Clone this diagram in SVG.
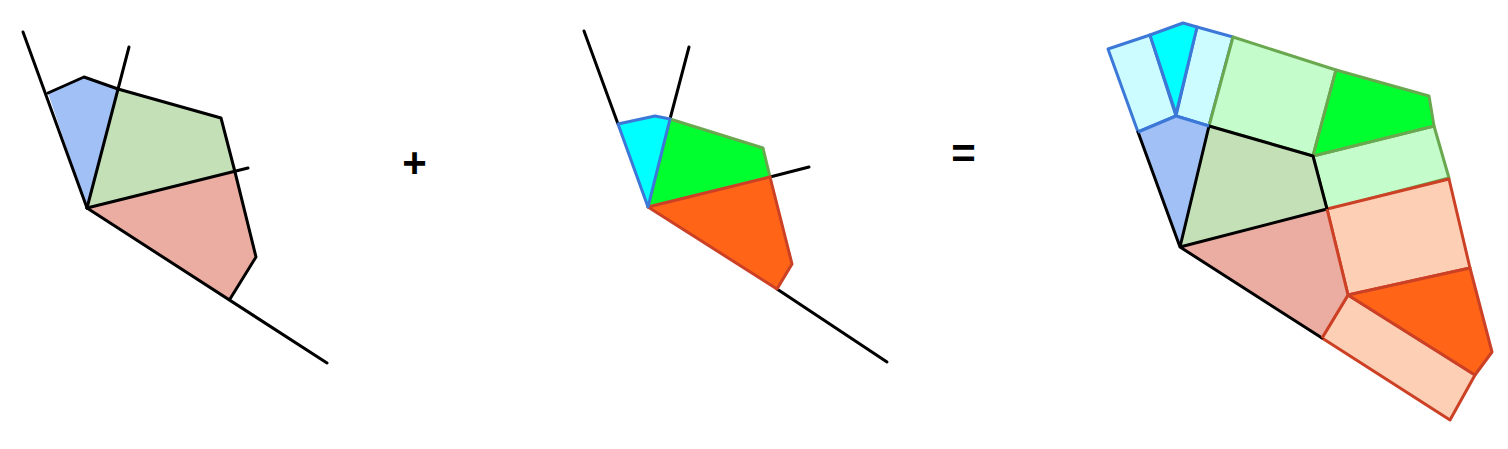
<svg xmlns="http://www.w3.org/2000/svg" width="1508" height="449" viewBox="0 0 1508 449">
<style>
.k{stroke:#000;stroke-width:3;fill:none;stroke-linejoin:round;stroke-linecap:round}
.bl{stroke:#3c78d8;stroke-width:3;stroke-linejoin:round}
.gr{stroke:#6aa84f;stroke-width:3;stroke-linejoin:round}
.rd{stroke:#cc4125;stroke-width:3;stroke-linejoin:round}
.op{font-family:"Liberation Sans",Arial,sans-serif;font-weight:bold;font-size:42px;fill:#000;text-anchor:middle}
</style>
<rect width="1508" height="449" fill="#fff"/>
<g id="left">
<polygon points="48,93 84,77 118,89 87,208" fill="#a0c0f6"/>
<polygon points="118,89 221,118 235,172 87,208" fill="#c4e0b7"/>
<polygon points="87,208 235,172 256,257 230,299" fill="#ebada2"/>
<polyline class="k" points="48,93 84,77 118,89 221,118 235,172 256,257 230,299"/>
<line class="k" x1="23" y1="32" x2="87" y2="208"/>
<line class="k" x1="129" y1="47" x2="87" y2="208"/>
<line class="k" x1="87" y1="208" x2="248" y2="168"/>
<line class="k" x1="87" y1="208" x2="327" y2="363"/>
</g>
<text id="plus" class="op" x="414.5" y="176.5">+</text>
<g id="middle">
<line class="k" x1="584" y1="31" x2="618" y2="124"/>
<line class="k" x1="689" y1="47" x2="670" y2="119"/>
<line class="k" x1="770" y1="177" x2="809" y2="167"/>
<line class="k" x1="777" y1="289" x2="887" y2="362"/>
<polygon class="gr" points="670,119 763,148 770,177 648,207" fill="#00ff2f"/>
<polygon class="rd" points="648,207 770,177 792,264 777,289" fill="#ff6417"/>
<polygon class="bl" points="618,124 655,116 670,119 648,207" fill="#00ffff"/>
</g>
<text id="equals" class="op" x="963.5" y="168">=</text>
<g id="right">
<polygon class="bl" points="1108,49 1150,35 1176,116 1138,132" fill="#ccfcff"/>
<polygon class="bl" points="1197,27 1233,37 1209,126 1176,116" fill="#ccfcff"/>
<polygon class="bl" points="1150,35 1183,23 1197,27 1176,114" fill="#00ffff"/>
<polygon class="gr" points="1233,37 1336,70 1313,156 1209,126" fill="#c4fccc"/>
<polygon class="gr" points="1313,156 1434,126 1449,178 1327,210" fill="#c4fccc"/>
<polygon class="gr" points="1336,70 1429,96 1434,126 1313,156" fill="#00ff2f"/>
<polygon class="rd" points="1327,209 1449,179 1470,268 1348,295" fill="#fdcfb5"/>
<polygon class="rd" points="1322,338 1348,295 1475,375 1450,420" fill="#fdcfb5"/>
<polygon class="rd" points="1348,295 1470,268 1492,352 1475,375" fill="#ff6417"/>
<polygon points="1138,132 1176,116 1209,126 1180,247" fill="#a0c0f6"/>
<polygon points="1209,126 1313,156 1327,209 1180,247" fill="#c4e0b7"/>
<polygon points="1180,247 1327,209 1348,295 1322,338" fill="#ebada2"/>
<polyline class="k" points="1138,132 1180,247 1209,126 1313,156 1327,209 1180,247 1322,338"/>
<polyline class="bl" fill="none" points="1138,132 1176,116 1209,126"/>
<polyline class="rd" fill="none" points="1327,209 1348,295 1322,338"/>
</g>
</svg>
